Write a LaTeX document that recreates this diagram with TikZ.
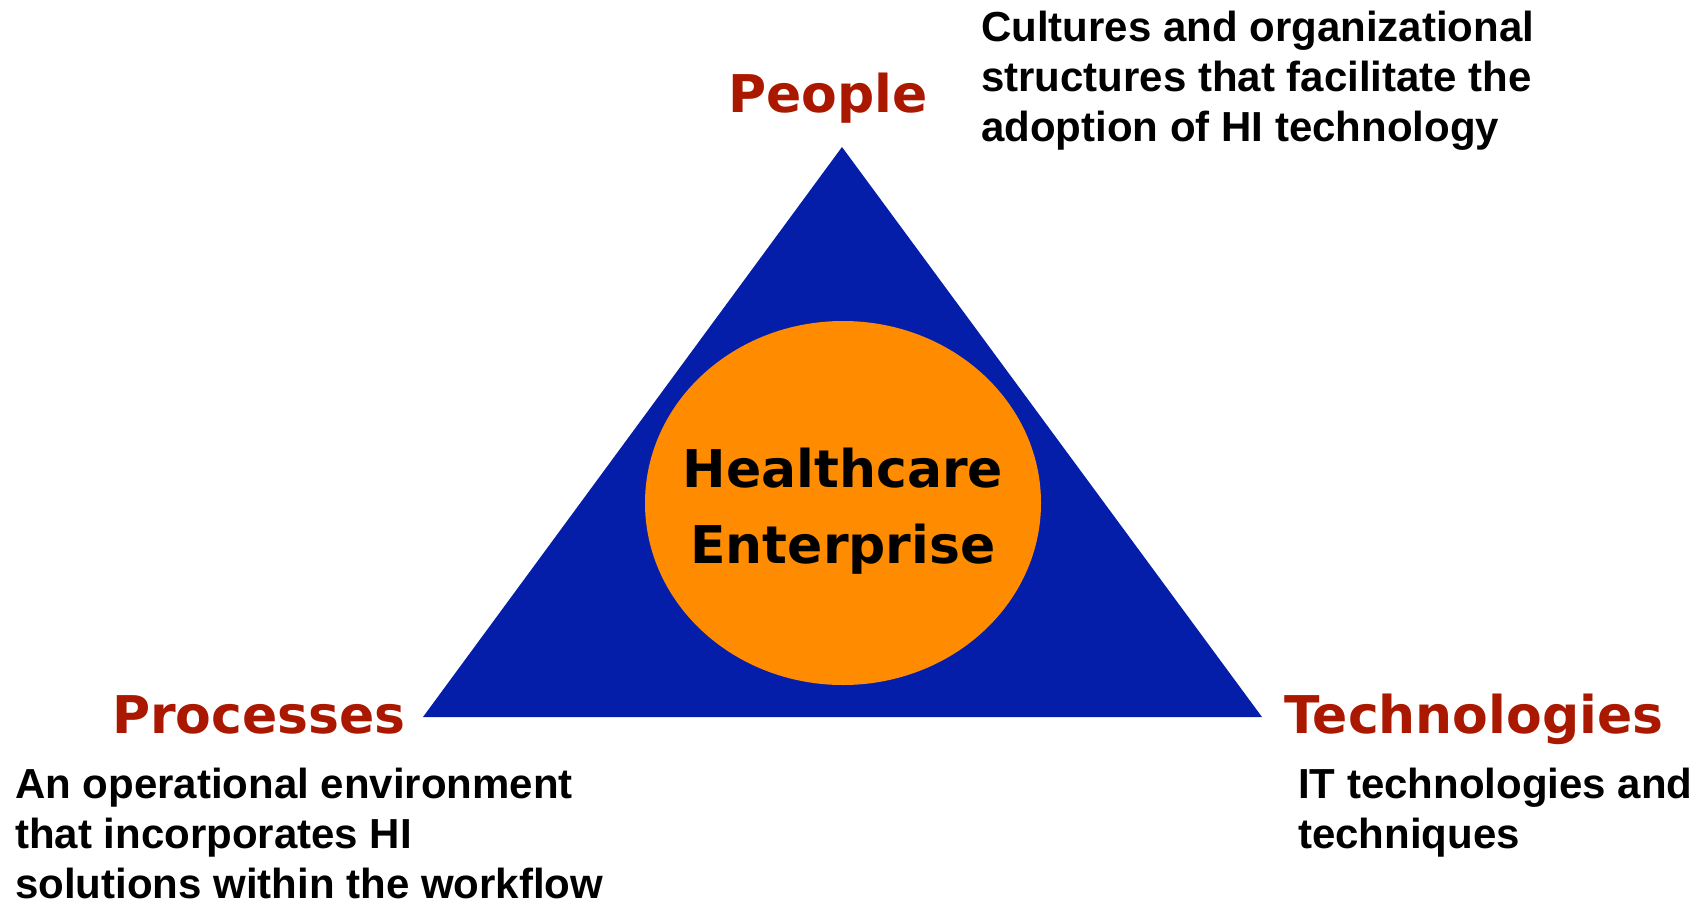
\documentclass[tikz,border=0pt]{standalone}
\usepackage{fontspec}
\usetikzlibrary{shapes.geometric}
\newfontfamily\headfont{DejaVu Sans Bold}
\newfontfamily\descfont{Liberation Sans Bold}
\definecolor{triblue}{RGB}{4,30,170}
\definecolor{coreorange}{RGB}{255,140,0}
\definecolor{headred}{RGB}{170,24,0}
\begin{document}
\begin{tikzpicture}[x=1pt,y=-1pt,
  heading/.style={inner sep=0pt,anchor=base west,text=headred,font=\headfont\fontsize{52}{60}\selectfont},
  desc/.style={inner sep=0pt,anchor=base west,align=left,text=black,font=\descfont\fontsize{42}{50}\selectfont},
  core/.style={ellipse,fill=coreorange,inner sep=0pt,minimum width=396pt,minimum height=364pt},
  coretext/.style={inner sep=0pt,anchor=base,align=center,font=\headfont\fontsize{52}{76}\selectfont}]
\useasboundingbox (0,0) rectangle (1703,903);
\coordinate (apex) at (842,147);
\coordinate (bl) at (423,717);
\coordinate (br) at (1262,717);
\fill[triblue] (apex) -- (br) -- (bl) -- cycle;
\node[core] (hc) at (843,503) {};
\node[coretext] (hctext) at (843,563) {Healthcare\\Enterprise};
\node[heading] (people) at (728,112) {People};
\node[heading] (proc) at (112,733) {Processes};
\node[heading] (tech) at (1284,733) {Technologies};
\node[desc] (dpeople) at (981,141) {Cultures and organizational\\structures that facilitate the\\adoption of HI technology};
\node[desc] (dproc) at (15,898) {An operational environment\\that incorporates HI\\solutions within the workflow};
\node[desc] (dtech) at (1298,848) {IT technologies and\\techniques};
\end{tikzpicture}
\end{document}
